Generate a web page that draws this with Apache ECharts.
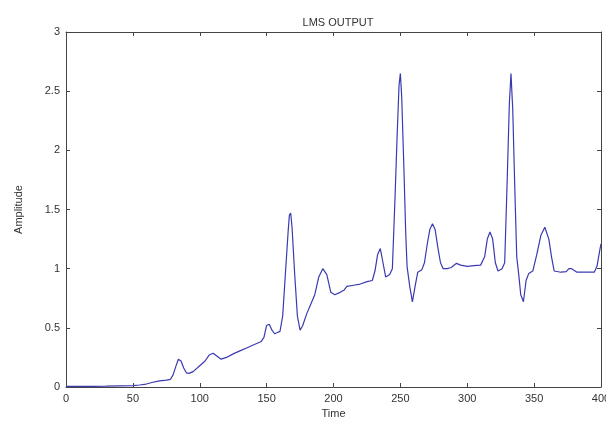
<!DOCTYPE html>
<html>
<head>
<meta charset="utf-8">
<script src="https://cdn.jsdelivr.net/npm/echarts@6/dist/echarts.min.js"></script>
<style>
  html, body { margin: 0; padding: 0; background: #fff; }
  #chart { width: 606px; height: 423px; }
</style>
</head>
<body>
<div id="chart"></div>
<script>
// LMS output signal
var time = [0, 10, 20, 30, 40, 50, 55, 60, 65, 70, 75, 78, 80, 82, 84, 86, 88, 90, 92, 95,
  100, 104, 107, 110, 113, 116, 120, 125, 130, 135, 140, 146, 148, 150, 152, 154, 156, 158,
  160, 162, 164, 166, 167, 168, 169, 171, 173, 175, 177, 180, 183, 186, 189, 192, 195, 198,
  201, 205, 208, 210, 215, 220, 225, 229, 231, 233, 235, 237, 239, 242, 244, 246, 247.5, 249,
  250, 251, 252.5, 254, 255, 257, 259, 261, 263, 266, 268, 270, 272, 274, 276, 278, 280, 282,
  285, 288, 292, 295, 300, 305, 310, 313, 315, 317, 319, 321, 323, 326, 328, 330, 331.5, 332.7,
  334, 335.5, 337, 338.5, 340, 342, 344, 346, 349, 352, 355, 358, 361, 363, 365, 370, 374, 376,
  378, 382, 388, 395, 397, 399, 400];
var amplitude = [0.005, 0.005, 0.006, 0.007, 0.01, 0.012, 0.017, 0.025, 0.04, 0.052, 0.058, 0.065, 0.1, 0.17, 0.235, 0.22, 0.16, 0.12, 0.115, 0.13,
  0.18, 0.22, 0.27, 0.285, 0.26, 0.235, 0.25, 0.28, 0.305, 0.33, 0.355, 0.385, 0.42, 0.52, 0.53, 0.48, 0.45, 0.46,
  0.47, 0.6, 0.95, 1.3, 1.45, 1.47, 1.35, 0.95, 0.6, 0.48, 0.52, 0.62, 0.7, 0.78, 0.93, 1.0, 0.95, 0.8,
  0.78, 0.8, 0.82, 0.85, 0.86, 0.87, 0.89, 0.9, 0.98, 1.12, 1.17, 1.05, 0.93, 0.95, 1.0, 1.6, 2.1, 2.55,
  2.65, 2.45, 1.9, 1.3, 1.02, 0.85, 0.72, 0.85, 0.97, 0.99, 1.05, 1.2, 1.33, 1.38, 1.33, 1.18, 1.05, 1.0,
  1.0, 1.01, 1.045, 1.03, 1.02, 1.025, 1.03, 1.1, 1.25, 1.31, 1.25, 1.05, 0.98, 1.0, 1.05, 1.8, 2.4, 2.65,
  2.35, 1.7, 1.1, 0.95, 0.78, 0.72, 0.9, 0.96, 0.98, 1.12, 1.28, 1.35, 1.25, 1.1, 0.98, 0.97, 0.975, 1.0,
  1.0, 0.97, 0.97, 0.97, 1.02, 1.15, 1.21];

var xTicks = { min: 0, max: 400, interval: 50 };
var yTicks = { min: 0, max: 3, interval: 0.5 };

var font = 'Liberation Sans, Arial, sans-serif';
var axisColor = '#444';

// matlab style box: same scale on all four sides, ticks pointing in
function boxAxis(ticks, position, showLabel) {
  return {
    type: 'value',
    position: position,
    min: ticks.min,
    max: ticks.max,
    interval: ticks.interval,
    axisLine: { show: true, onZero: false, lineStyle: { color: axisColor, width: 1 } },
    axisTick: { show: true, inside: true, length: 4, lineStyle: { color: axisColor } },
    axisLabel: { show: showLabel, color: '#333', fontSize: 11, fontFamily: font, margin: 6 },
    splitLine: { show: false }
  };
}

var chart = echarts.init(document.getElementById('chart'));

var xBottom = boxAxis(xTicks, 'bottom', true);
xBottom.name = 'Time';
xBottom.nameLocation = 'middle';
xBottom.nameGap = 20;
xBottom.nameTextStyle = { color: '#333', fontSize: 11, fontFamily: font };

var yLeft = boxAxis(yTicks, 'left', true);
yLeft.name = 'Amplitude';
yLeft.nameLocation = 'middle';
yLeft.nameGap = 42;
yLeft.nameTextStyle = { color: '#333', fontSize: 11, fontFamily: font };

var data = time.map(function (t, i) { return [t, amplitude[i]]; });

chart.setOption({
  backgroundColor: '#fff',
  animation: false,
  title: {
    text: 'LMS OUTPUT',
    left: 333,
    textAlign: 'center',
    top: 12,
    textStyle: { color: '#333', fontSize: 11, fontWeight: 'normal', fontFamily: font }
  },
  grid: { left: 66, right: 5, top: 32, bottom: 36, outerBoundsMode: 'none' },
  xAxis: [xBottom, boxAxis(xTicks, 'top', false)],
  yAxis: [yLeft, boxAxis(yTicks, 'right', false)],
  series: [{
    type: 'line',
    data: data,
    showSymbol: false,
    lineStyle: { color: '#3a3ab0', width: 1.2 },
    xAxisIndex: 0,
    yAxisIndex: 0
  }]
});
</script>
</body>
</html>
